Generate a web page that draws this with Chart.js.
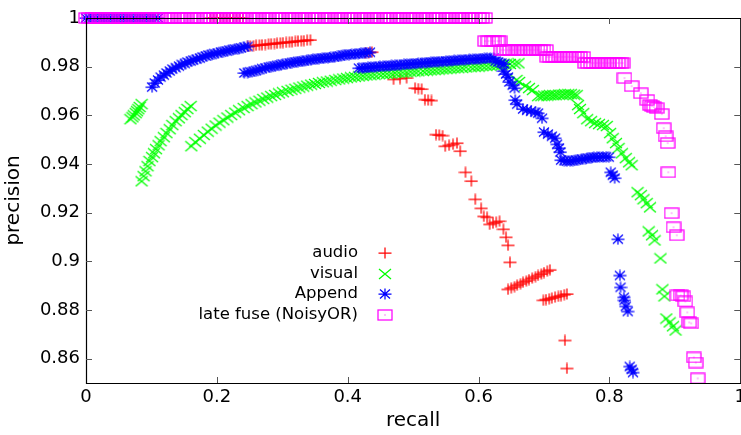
<!DOCTYPE html>
<html>
<head>
<meta charset="utf-8">
<script src="https://cdn.jsdelivr.net/npm/chart.js@4.4.1/dist/chart.umd.min.js"></script>
<style>
html, body { margin: 0; padding: 0; background: #fff; overflow: hidden; }
#wrap { width: 750px; height: 435px; }
</style>
</head>
<body>
<div id="wrap"><canvas id="prChart" width="750" height="435"></canvas></div>
<script>
// precision / recall points
const seriesNames = ['audio', 'visual', 'Append', 'late fuse (NoisyOR)'];
const xTicks = [0, 0.2, 0.4, 0.6, 0.8, 1];
const yTicks = [0.86, 0.88, 0.9, 0.92, 0.94, 0.96, 0.98, 1];

// recall values of the points sitting at precision 1
const audioTop = [0.19, 0.195, 0.2, 0.205, 0.21, 0.215, 0.22, 0.225, 0.23, 0.235, 0.24];
const appendTop = [0, 0.005, 0.01, 0.015, 0.02, 0.025, 0.03, 0.035, 0.04, 0.045, 0.05, 0.055,
  0.06, 0.065, 0.07, 0.075, 0.08, 0.085, 0.09, 0.095, 0.1, 0.105, 0.11];
const lateTop = [0, 0.005, 0.01, 0.015, 0.02, 0.025, 0.03, 0.035, 0.04, 0.045, 0.05, 0.055,
  0.06, 0.065, 0.07, 0.075, 0.08, 0.085, 0.09, 0.095, 0.1, 0.105, 0.11, 0.115, 0.12, 0.125,
  0.13, 0.135, 0.14, 0.145, 0.15, 0.155, 0.16, 0.165, 0.17, 0.175, 0.18, 0.185, 0.19, 0.195,
  0.2, 0.205, 0.21, 0.215, 0.22, 0.225, 0.23, 0.235, 0.24, 0.245, 0.25, 0.255, 0.26, 0.265,
  0.27, 0.275, 0.28, 0.285, 0.29, 0.295, 0.3, 0.305, 0.31, 0.315, 0.32, 0.325, 0.33, 0.335,
  0.34, 0.345, 0.35, 0.355, 0.36, 0.365, 0.37, 0.375, 0.38, 0.385, 0.39, 0.395, 0.4, 0.405,
  0.41, 0.415, 0.42, 0.425, 0.43, 0.435, 0.44, 0.445, 0.45, 0.455, 0.46, 0.465, 0.47, 0.475,
  0.48, 0.485, 0.49, 0.495, 0.5, 0.505, 0.51, 0.515, 0.52, 0.525, 0.53, 0.535, 0.54, 0.545,
  0.55, 0.555, 0.56, 0.565, 0.57, 0.575, 0.58, 0.585, 0.59, 0.595, 0.6, 0.605, 0.61];

// [recall, precision]
const audioPts = [
  [0.247,0.9884],[0.251,0.9885],[0.256,0.9886],[0.260,0.9888],[0.265,0.9889],[0.269,0.9890],
  [0.274,0.9891],[0.279,0.9893],[0.283,0.9894],[0.288,0.9895],[0.292,0.9896],[0.297,0.9898],
  [0.301,0.9899],[0.306,0.9900],[0.311,0.9901],[0.315,0.9902],[0.320,0.9904],[0.324,0.9905],
  [0.329,0.9906],[0.333,0.9907],[0.338,0.9909],[0.343,0.9910],
  [0.427,0.9856],[0.432,0.9858],[0.437,0.9860],
  [0.470,0.9748],[0.480,0.9751],[0.490,0.9754],
  [0.503,0.9712],[0.508,0.9710],[0.513,0.9708],
  [0.518,0.9665],[0.523,0.9663],[0.528,0.9661],
  [0.535,0.9521],[0.540,0.9519],[0.545,0.9517],
  [0.549,0.9473],[0.555,0.9477],[0.561,0.9481],[0.567,0.9486],
  [0.572,0.9453],[0.580,0.9366],[0.589,0.9330],[0.595,0.9255],[0.604,0.9218],
  [0.608,0.9185],[0.613,0.9181],
  [0.617,0.9152],[0.622,0.9157],[0.627,0.9161],[0.632,0.9165],
  [0.638,0.9132],[0.642,0.9099],[0.645,0.9066],[0.648,0.8996],
  [0.645,0.8885],[0.650,0.8891],[0.655,0.8896],[0.659,0.8902],[0.664,0.8908],[0.668,0.8914],
  [0.673,0.8919],[0.677,0.8925],[0.682,0.8931],[0.687,0.8937],[0.691,0.8942],[0.696,0.8948],
  [0.700,0.8954],[0.705,0.8960],[0.709,0.8965],
  [0.699,0.8840],[0.703,0.8843],[0.708,0.8846],[0.712,0.8849],[0.717,0.8853],[0.722,0.8856],
  [0.726,0.8859],[0.731,0.8863],[0.735,0.8866],
  [0.732,0.8675],[0.735,0.8560]
];

const visualPts = [
  [0.068,0.9584],[0.071,0.9592],[0.073,0.9600],[0.076,0.9609],[0.078,0.9617],[0.080,0.9625],
  [0.082,0.9634],[0.085,0.9646],
  [0.085,0.9329],[0.088,0.9350],[0.091,0.9370],[0.094,0.9391],[0.097,0.9412],[0.101,0.9428],
  [0.104,0.9444],[0.107,0.9461],[0.111,0.9477],[0.114,0.9494],[0.119,0.9510],[0.123,0.9527],
  [0.128,0.9543],[0.132,0.9560],[0.137,0.9576],[0.142,0.9588],[0.146,0.9601],[0.151,0.9613],
  [0.155,0.9626],[0.160,0.9638],
  [0.161,0.9473],[0.167,0.9490],[0.174,0.9504],[0.180,0.9519],[0.186,0.9533],[0.192,0.9545],
  [0.198,0.9558],[0.204,0.9570],[0.210,0.9580],[0.216,0.9591],[0.222,0.9601],[0.228,0.9611],
  [0.234,0.9621],[0.241,0.9630],[0.247,0.9638],[0.253,0.9646],[0.259,0.9653],[0.265,0.9660],
  [0.271,0.9667],[0.277,0.9673],[0.283,0.9679],[0.289,0.9684],[0.295,0.9690],[0.301,0.9695],
  [0.308,0.9700],[0.314,0.9705],[0.320,0.9709],[0.326,0.9714],[0.332,0.9718],[0.338,0.9722],
  [0.344,0.9726],[0.350,0.9729],[0.356,0.9733],[0.362,0.9736],[0.368,0.9739],[0.374,0.9742],
  [0.381,0.9745],[0.387,0.9748],[0.393,0.9751],[0.399,0.9753],[0.405,0.9756],[0.411,0.9758],
  [0.417,0.9760],[0.423,0.9762],[0.429,0.9764],[0.435,0.9765],[0.441,0.9767],[0.448,0.9769],
  [0.454,0.9770],[0.460,0.9771],[0.466,0.9772],[0.472,0.9774],[0.478,0.9775],[0.484,0.9776],
  [0.490,0.9777],[0.496,0.9779],[0.502,0.9780],[0.508,0.9781],[0.515,0.9782],[0.521,0.9784],
  [0.527,0.9785],[0.533,0.9786],[0.539,0.9788],[0.545,0.9789],[0.551,0.9790],[0.557,0.9792],
  [0.563,0.9793],[0.569,0.9794],[0.575,0.9795],[0.581,0.9797],[0.588,0.9798],[0.594,0.9799],
  [0.600,0.9800],[0.606,0.9802],[0.612,0.9803],[0.618,0.9804],[0.624,0.9805],[0.630,0.9807],
  [0.636,0.9808],[0.642,0.9809],[0.648,0.9811],[0.655,0.9812],[0.661,0.9814],
  [0.658,0.9745],[0.662,0.9737],
  [0.671,0.9720],[0.677,0.9712],[0.683,0.9704],
  [0.691,0.9679],[0.696,0.9679],[0.700,0.9681],[0.705,0.9681],[0.709,0.9683],[0.714,0.9683],
  [0.718,0.9683],[0.723,0.9685],[0.728,0.9685],[0.732,0.9687],[0.737,0.9687],[0.741,0.9687],
  [0.746,0.9685],[0.750,0.9683],
  [0.752,0.9642],[0.755,0.9626],[0.760,0.9609],
  [0.766,0.9584],[0.772,0.9576],[0.778,0.9568],[0.784,0.9564],[0.790,0.9560],[0.796,0.9556],
  [0.801,0.9527],[0.805,0.9506],[0.810,0.9486],[0.814,0.9465],[0.819,0.9444],
  [0.825,0.9424],[0.830,0.9407],[0.834,0.9395],
  [0.843,0.9284],[0.848,0.9272],[0.852,0.9255],[0.857,0.9239],[0.862,0.9222],
  [0.860,0.9123],[0.865,0.9107],[0.869,0.9086],
  [0.878,0.9012],
  [0.881,0.8885],[0.884,0.8856],
  [0.887,0.8765],[0.892,0.8749],[0.897,0.8733],[0.901,0.8716]
];

const appendPts = [
  [0.101,0.9716],[0.105,0.9733],[0.110,0.9745],[0.114,0.9757],[0.119,0.9765],[0.123,0.9774],
  [0.128,0.9782],[0.132,0.9790],[0.137,0.9796],[0.142,0.9802],[0.146,0.9809],[0.151,0.9813],
  [0.155,0.9819],[0.160,0.9823],[0.164,0.9827],[0.169,0.9831],[0.174,0.9835],[0.178,0.9840],
  [0.183,0.9844],[0.187,0.9848],[0.192,0.9850],[0.196,0.9854],[0.201,0.9856],[0.206,0.9860],
  [0.210,0.9862],[0.215,0.9864],[0.219,0.9868],[0.224,0.9870],[0.228,0.9872],[0.233,0.9874],
  [0.237,0.9877],[0.242,0.9881],[0.247,0.9883],
  [0.242,0.9774],[0.247,0.9776],[0.251,0.9779],[0.256,0.9781],[0.260,0.9784],[0.265,0.9788],
  [0.269,0.9792],[0.274,0.9795],[0.279,0.9798],[0.283,0.9800],[0.288,0.9802],[0.292,0.9805],
  [0.297,0.9807],[0.301,0.9810],[0.306,0.9812],[0.311,0.9815],[0.315,0.9817],[0.320,0.9819],
  [0.324,0.9821],[0.329,0.9822],[0.333,0.9824],[0.338,0.9826],[0.343,0.9828],[0.347,0.9830],
  [0.352,0.9832],[0.356,0.9833],[0.361,0.9835],[0.365,0.9836],[0.370,0.9837],[0.374,0.9838],
  [0.379,0.9840],[0.384,0.9842],[0.388,0.9844],[0.393,0.9847],[0.397,0.9849],[0.402,0.9850],
  [0.406,0.9851],[0.411,0.9852],[0.416,0.9853],[0.420,0.9855],[0.425,0.9856],[0.429,0.9858],
  [0.434,0.9859],
  [0.417,0.9794],[0.422,0.9795],[0.426,0.9796],[0.431,0.9797],[0.435,0.9798],[0.440,0.9799],
  [0.444,0.9800],[0.449,0.9801],[0.454,0.9802],[0.458,0.9802],[0.463,0.9804],[0.467,0.9805],
  [0.472,0.9805],[0.476,0.9807],[0.481,0.9808],[0.486,0.9809],[0.490,0.9810],[0.495,0.9811],
  [0.499,0.9812],[0.504,0.9813],[0.508,0.9814],[0.513,0.9815],[0.518,0.9816],[0.522,0.9817],
  [0.527,0.9818],[0.531,0.9819],[0.536,0.9820],[0.540,0.9821],[0.545,0.9821],[0.550,0.9823],
  [0.554,0.9823],[0.559,0.9824],[0.563,0.9826],[0.568,0.9826],[0.572,0.9827],[0.577,0.9828],
  [0.581,0.9829],[0.586,0.9830],[0.591,0.9830],[0.595,0.9831],[0.600,0.9832],[0.604,0.9833],
  [0.609,0.9834],[0.613,0.9835],[0.618,0.9835],[0.623,0.9836],
  [0.626,0.9823],[0.630,0.9819],[0.635,0.9815],[0.639,0.9811],
  [0.638,0.9782],[0.642,0.9770],[0.645,0.9757],
  [0.647,0.9737],[0.652,0.9724],[0.655,0.9712],
  [0.656,0.9663],[0.659,0.9646],
  [0.668,0.9626],[0.674,0.9621],[0.680,0.9617],[0.687,0.9613],[0.691,0.9609],
  [0.697,0.9588],
  [0.700,0.9531],[0.706,0.9523],[0.712,0.9514],[0.717,0.9506],
  [0.720,0.9481],[0.723,0.9465],[0.725,0.9449],
  [0.726,0.9416],[0.731,0.9414],[0.735,0.9412],[0.740,0.9412],[0.744,0.9414],[0.749,0.9416],
  [0.753,0.9418],[0.758,0.9420],[0.763,0.9422],[0.767,0.9424],[0.772,0.9426],[0.776,0.9428],
  [0.781,0.9428],[0.785,0.9428],[0.790,0.9430],[0.795,0.9430],[0.799,0.9428],
  [0.802,0.9366],[0.805,0.9354],[0.808,0.9342],
  [0.813,0.9091],
  [0.816,0.8942],[0.817,0.8893],[0.822,0.8852],[0.823,0.8840],[0.825,0.8815],[0.828,0.8794],
  [0.831,0.8568],[0.834,0.8556],[0.836,0.8543]
];

const latePts = [
  [0.610,0.9905],[0.615,0.9905],[0.620,0.9905],[0.624,0.9905],[0.629,0.9905],[0.632,0.9905],
  [0.635,0.9868],[0.639,0.9868],[0.644,0.9868],[0.648,0.9868],[0.653,0.9868],[0.658,0.9868],
  [0.662,0.9868],[0.667,0.9868],[0.671,0.9868],[0.676,0.9868],[0.680,0.9868],[0.685,0.9868],
  [0.690,0.9868],[0.694,0.9868],[0.699,0.9868],[0.703,0.9868],
  [0.705,0.9840],[0.709,0.9840],[0.714,0.9840],[0.718,0.9840],[0.723,0.9840],[0.728,0.9840],
  [0.732,0.9840],[0.737,0.9840],[0.741,0.9840],[0.746,0.9840],[0.750,0.9840],[0.755,0.9840],
  [0.760,0.9840],
  [0.763,0.9815],[0.767,0.9815],[0.772,0.9815],[0.776,0.9815],[0.781,0.9815],[0.785,0.9815],
  [0.790,0.9815],[0.795,0.9815],[0.799,0.9815],[0.804,0.9815],[0.808,0.9815],[0.813,0.9815],
  [0.817,0.9815],[0.820,0.9815],
  [0.823,0.9753],[0.834,0.9720],[0.848,0.9691],[0.858,0.9663],[0.862,0.9642],[0.865,0.9638],
  [0.868,0.9634],[0.872,0.9630],[0.880,0.9605],
  [0.883,0.9547],[0.886,0.9514],[0.889,0.9486],[0.890,0.9366],
  [0.895,0.9198],[0.898,0.9140],[0.903,0.9107],
  [0.904,0.8860],[0.909,0.8860],[0.913,0.8856],[0.916,0.8835],[0.919,0.8790],[0.922,0.8749],
  [0.925,0.8745],
  [0.929,0.8605],[0.932,0.8584],[0.935,0.8519]
];

const FONT = 'DejaVu Sans';

// gnuplot style point symbols (a bit wider than tall, like the original)
function makeMark(w, h, color, draw) {
  const c = document.createElement('canvas');
  c.width = w; c.height = h;
  const g = c.getContext('2d');
  g.strokeStyle = color;
  g.fillStyle = color;
  g.lineWidth = 1.25;
  draw(g, w, h);
  return c;
}
const plusMark = makeMark(14, 12, '#ff0000', (g, w, h) => {
  g.beginPath();
  g.moveTo(0.5, 6); g.lineTo(13.5, 6);
  g.moveTo(7, 0.5); g.lineTo(7, 11.5);
  g.stroke();
});
const crossMark = makeMark(14, 12, '#00ff00', (g, w, h) => {
  g.beginPath();
  g.moveTo(1, 1); g.lineTo(13, 11);
  g.moveTo(13, 1); g.lineTo(1, 11);
  g.stroke();
});
const starMark = makeMark(14, 12, '#0000ff', (g, w, h) => {
  g.beginPath();
  g.moveTo(0.5, 6); g.lineTo(13.5, 6);
  g.moveTo(7, 0.5); g.lineTo(7, 11.5);
  g.moveTo(2, 1.5); g.lineTo(12, 10.5);
  g.moveTo(12, 1.5); g.lineTo(2, 10.5);
  g.stroke();
});
const boxMark = makeMark(16, 12, '#ff00ff', (g, w, h) => {
  g.strokeRect(1, 1, 14, 10);
  g.fillRect(7.5, 5.5, 1, 1);
});

const toXY = arr => arr.map(p => ({ x: p[0], y: p[1] }));
const topRow = arr => arr.map(r => [r, 1]);

function series(i, pts, mark, order) {
  return {
    label: seriesNames[i],
    data: toXY(pts),
    pointStyle: mark,
    pointRadius: 6,
    showLine: false,
    clip: false,
    order: order
  };
}

const frame = {
  id: 'frame',
  afterDatasetsDraw(chart) {
    const { ctx, chartArea: a, scales: { x, y } } = chart;
    ctx.save();
    ctx.strokeStyle = '#000';
    ctx.lineWidth = 1.2;
    ctx.beginPath();
    ctx.moveTo(a.left + 0.5, a.top + 0.5);
    ctx.lineTo(a.left + 0.5, a.bottom + 0.5);
    ctx.lineTo(a.right + 0.5, a.bottom + 0.5);
    ctx.lineTo(a.right + 0.5, a.top + 0.5);
    ctx.closePath();
    ctx.stroke();
    // inward tick marks on all four sides
    ctx.strokeStyle = '#555';
    ctx.lineWidth = 1;
    ctx.beginPath();
    yTicks.forEach(v => {
      if (v === 1) return;
      const py = Math.round(y.getPixelForValue(v)) + 0.5;
      ctx.moveTo(a.left, py); ctx.lineTo(a.left + 6, py);
      ctx.moveTo(a.right, py); ctx.lineTo(a.right - 6, py);
    });
    xTicks.forEach(v => {
      if (v === 0 || v === 1) return;
      const px = Math.round(x.getPixelForValue(v)) + 0.5;
      ctx.moveTo(px, a.top); ctx.lineTo(px, a.top + 6);
      ctx.moveTo(px, a.bottom); ctx.lineTo(px, a.bottom - 6);
    });
    ctx.stroke();
    ctx.restore();
  },
  afterDraw(chart) {
    const ctx = chart.ctx;
    ctx.save();
    ctx.font = '16.5px "' + FONT + '"';
    ctx.fillStyle = '#000';
    ctx.textAlign = 'right';
    ctx.textBaseline = 'middle';
    chart.data.datasets.forEach((ds, i) => {
      const yy = 253 + i * 20.5;
      ctx.fillText(ds.label, 358, yy);
      const m = ds.pointStyle;
      ctx.drawImage(m, Math.round(385 - m.width / 2), Math.round(yy - m.height / 2));
    });
    ctx.restore();
  }
};

const prCtx = document.getElementById('prChart').getContext('2d');
const prChart = new Chart(prCtx, {
  type: 'scatter',
  data: {
    datasets: [
      series(0, topRow(audioTop).concat(audioPts), plusMark, 3),
      series(1, visualPts, crossMark, 2),
      series(2, topRow(appendTop).concat(appendPts), starMark, 1),
      series(3, topRow(lateTop).concat(latePts), boxMark, 0)
    ]
  },
  options: {
    responsive: false,
    animation: false,
    events: [],
    layout: { padding: { top: 18, right: 7, left: 0, bottom: 0 } },
    plugins: { legend: { display: false }, tooltip: { enabled: false } },
    scales: {
      x: {
        type: 'linear',
        min: 0,
        max: 1,
        afterFit: s => { s.height = 52; },
        afterBuildTicks: s => { s.ticks = xTicks.map(v => ({ value: v })); },
        grid: { display: false, drawTicks: false },
        border: { display: false },
        ticks: {
          font: { family: FONT, size: 18 },
          color: '#000',
          padding: 4,
          maxRotation: 0,
          autoSkip: false,
          callback: v => String(v)
        },
        title: {
          display: true,
          text: 'recall',
          color: '#000',
          font: { family: FONT, size: 20 },
          padding: { top: 0, bottom: 2 }
        }
      },
      y: {
        type: 'linear',
        min: 0.85,
        max: 1,
        afterFit: s => { s.width = 86; },
        afterBuildTicks: s => { s.ticks = yTicks.map(v => ({ value: v })); },
        grid: { display: false, drawTicks: false },
        border: { display: false },
        ticks: {
          font: { family: FONT, size: 18 },
          color: '#000',
          padding: 6,
          autoSkip: false,
          callback: v => String(v)
        },
        title: {
          display: true,
          text: 'precision',
          color: '#000',
          font: { family: FONT, size: 20 },
          padding: { top: 2, bottom: 0 }
        }
      }
    }
  },
  plugins: [frame]
});
</script>
</body>
</html>
